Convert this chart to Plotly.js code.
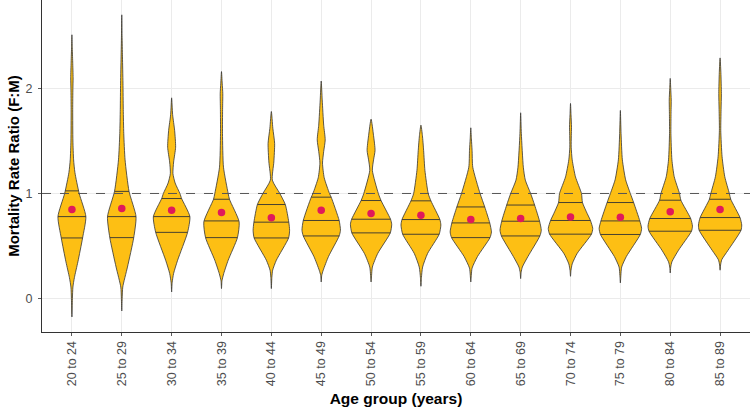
<!DOCTYPE html>
<html>
<head>
<meta charset="utf-8">
<script src="https://cdn.plot.ly/plotly-3.0.1.min.js"></script>
<style>html,body{margin:0;padding:0;background:#fff;}#chart{width:750px;height:412px;}</style>
</head>
<body>
<div id="chart"></div>
<script>
// Age groups (x categories)
const ageGroups = ["20 to 24","25 to 29","30 to 34","35 to 39","40 to 44","45 to 49","50 to 54",
                   "55 to 59","60 to 64","65 to 69","70 to 74","75 to 79","80 to 84","85 to 89"];

// Quartiles (25th, 50th, 75th) and means of the F:M mortality rate ratio
const q1     = [0.577,0.58,0.63,0.58,0.577,0.596,0.625,0.612,0.58,0.596,0.613,0.61,0.641,0.65];
const median = [0.78,0.78,0.78,0.739,0.727,0.743,0.755,0.752,0.72,0.736,0.743,0.739,0.762,0.771];
const q3     = [1.025,1.02,0.952,0.945,0.895,0.965,0.933,0.93,0.872,0.89,0.914,0.914,0.936,0.945];
const means  = [0.848,0.857,0.841,0.82,0.77,0.84,0.81,0.793,0.752,0.762,0.777,0.774,0.825,0.848];

// Violin density profiles: ratio levels and scaled half-density
const densityY = [
  [-0.175,0.0,0.11,0.2,0.35,0.577,0.78,1.0,1.2,1.32,1.5,1.8,2.0,2.1,2.25,2.4,2.51],
  [-0.118,0.0,0.11,0.30,0.58,0.78,1.02,1.32,1.57,1.8,2.05,2.3,2.5,2.70],
  [0.063,0.15,0.24,0.365,0.63,0.78,0.952,1.0,1.1,1.19,1.3,1.44,1.6,1.75,1.91],
  [0.095,0.17,0.24,0.365,0.58,0.73,0.945,1.0,1.25,1.57,1.8,1.95,2.05,2.16],
  [0.095,0.2,0.27,0.365,0.577,0.65,0.727,0.895,1.0,1.127,1.3,1.476,1.62,1.78],
  [0.158,0.22,0.27,0.40,0.596,0.65,0.743,0.965,1.0,1.15,1.29,1.4,1.51,1.65,1.89,2.07],
  [0.158,0.22,0.30,0.43,0.625,0.707,0.755,0.933,1.0,1.22,1.32,1.41,1.55,1.707],
  [0.117,0.2,0.30,0.43,0.612,0.70,0.752,0.93,1.0,1.22,1.41,1.55,1.65],
  [0.158,0.22,0.29,0.40,0.58,0.634,0.72,0.872,1.0,1.25,1.41,1.52,1.625],
  [0.19,0.25,0.30,0.40,0.596,0.65,0.736,0.89,1.0,1.127,1.25,1.57,1.768],
  [0.212,0.27,0.33,0.43,0.613,0.667,0.743,0.81,0.914,1.0,1.158,1.32,1.44,1.55,1.63,1.75,1.857],
  [0.149,0.22,0.30,0.40,0.61,0.667,0.739,0.914,1.0,1.13,1.32,1.57,1.79],
  [0.244,0.30,0.35,0.46,0.641,0.689,0.762,0.936,1.0,1.16,1.32,1.57,1.75,1.89,2.0,2.095],
  [0.27,0.32,0.37,0.46,0.65,0.70,0.771,0.945,1.0,1.16,1.35,1.6,1.8,1.95,2.15,2.29]
];
const densityW = [
  [0,0.01,0.02,0.05,0.12,0.214,0.28,0.146,0.06,0.034,0.02,0.016,0.02,0.024,0.016,0.006,0],
  [0,0.008,0.02,0.114,0.24,0.286,0.146,0.066,0.04,0.03,0.024,0.014,0.006,0],
  [0,0.01,0.04,0.12,0.32,0.366,0.2,0.166,0.07,0.026,0.04,0.08,0.06,0.02,0],
  [0,0.01,0.046,0.134,0.32,0.354,0.16,0.134,0.04,0.02,0.022,0.026,0.014,0],
  [0,0.01,0.026,0.1,0.346,0.366,0.35,0.28,0.17,0.02,0.05,0.066,0.03,0],
  [0,0.01,0.04,0.146,0.36,0.386,0.36,0.2,0.166,0.06,0.026,0.05,0.08,0.05,0.02,0],
  [0,0.01,0.026,0.134,0.386,0.414,0.39,0.2,0.146,0.026,0.05,0.08,0.05,0],
  [0,0.01,0.034,0.134,0.366,0.4,0.38,0.2,0.146,0.08,0.054,0.03,0],
  [0,0.01,0.026,0.134,0.386,0.414,0.38,0.28,0.186,0.04,0.026,0.012,0],
  [0,0.01,0.034,0.146,0.386,0.414,0.38,0.28,0.2,0.094,0.054,0.014,0],
  [0,0.01,0.034,0.134,0.42,0.446,0.4,0.334,0.24,0.22,0.1,0.034,0.014,0.016,0.02,0.01,0],
  [0,0.01,0.026,0.12,0.4,0.426,0.39,0.266,0.2,0.106,0.04,0.014,0],
  [0,0.01,0.034,0.166,0.426,0.446,0.41,0.214,0.186,0.08,0.034,0.014,0.016,0.02,0.01,0],
  [0,0.01,0.034,0.16,0.42,0.434,0.4,0.214,0.186,0.094,0.04,0.014,0.02,0.026,0.016,0]
];

const referenceRatio = 1;

const FILL = "#FDBF14";
const EDGE = "#333333";
const MEAN = "#E0195B";

function interpW(ys, ws, v) {
  for (let k = 0; k < ys.length - 1; k++) {
    if (v >= ys[k] && v <= ys[k+1]) {
      const t = (v - ys[k]) / (ys[k+1] - ys[k]);
      return ws[k] + t * (ws[k+1] - ws[k]);
    }
  }
  return 0;
}

const traces = [];
ageGroups.forEach((g, i) => {
  const ys = densityY[i], ws = densityW[i];
  const xs = [], yy = [];
  for (let k = 0; k < ys.length; k++) { xs.push(i + ws[k]); yy.push(ys[k]); }
  for (let k = ys.length - 2; k >= 1; k--) { xs.push(i - ws[k]); yy.push(ys[k]); }
  xs.push(xs[0]); yy.push(yy[0]);
  traces.push({
    type: "scatter", mode: "lines", x: xs, y: yy, fill: "toself",
    fillcolor: FILL, line: {color: EDGE, width: 0.8, shape: "spline", smoothing: 0.6},
    hoverinfo: "skip", showlegend: false
  });
});

// quartile lines
const qx = [], qy = [];
ageGroups.forEach((g, i) => {
  [q1[i], median[i], q3[i]].forEach(v => {
    const w = interpW(densityY[i], densityW[i], v);
    qx.push(i - w, i + w, null); qy.push(v, v, null);
  });
});
traces.push({type: "scatter", mode: "lines", x: qx, y: qy,
  line: {color: EDGE, width: 0.9}, hoverinfo: "skip", showlegend: false});

// means
traces.push({type: "scatter", mode: "markers", x: ageGroups.map((g, i) => i), y: means,
  marker: {color: MEAN, size: 7.5, line: {width: 0}}, showlegend: false});

const layout = {
  width: 750, height: 412,
  margin: {l: 42, r: 0, t: 0, b: 80},
  paper_bgcolor: "#fff", plot_bgcolor: "#fff",
  font: {family: "Liberation Sans, Arial, sans-serif", color: "#4D4D4D", size: 12.5},
  showlegend: false,
  xaxis: {
    range: [-0.6, 13.6], tickmode: "array",
    tickvals: ageGroups.map((g, i) => i), ticktext: ageGroups,
    tickangle: -90, ticks: "outside", ticklen: 3, tickcolor: "#333", tickwidth: 0.8,
    showgrid: true, gridcolor: "#EBEBEB", gridwidth: 1,
    showline: true, linecolor: "#333", linewidth: 1, zeroline: false,
    tickfont: {size: 12.5, color: "#4D4D4D"},
    title: {text: "Age group (years)", standoff: 7,
            font: {size: 15.5, color: "#000", family: "Liberation Sans, Arial, sans-serif", weight: "bold"}}
  },
  yaxis: {
    range: [-0.318, 2.841], tickvals: [0, 1, 2], ticktext: ["0","1","2"],
    ticks: "outside", ticklen: 3, tickcolor: "#333", tickwidth: 0.8,
    ticklabelstandoff: 3,
    showgrid: true, gridcolor: "#EBEBEB", gridwidth: 1,
    showline: true, linecolor: "#333", linewidth: 1, zeroline: false,
    automargin: true,
    tickfont: {size: 12.5, color: "#4D4D4D"},
    title: {text: "Mortality Rate Ratio (F:M)", standoff: 2,
            font: {size: 15, color: "#000", family: "Liberation Sans, Arial, sans-serif", weight: "bold"}}
  },
  shapes: [{
    type: "line", xref: "paper", x0: 0, x1: 1, yref: "y", y0: referenceRatio, y1: referenceRatio,
    line: {color: "#555", width: 1, dash: "dash"}, layer: "above"
  }]
};

Plotly.newPlot("chart", traces, layout, {displayModeBar: false, staticPlot: true});
</script>
</body>
</html>
